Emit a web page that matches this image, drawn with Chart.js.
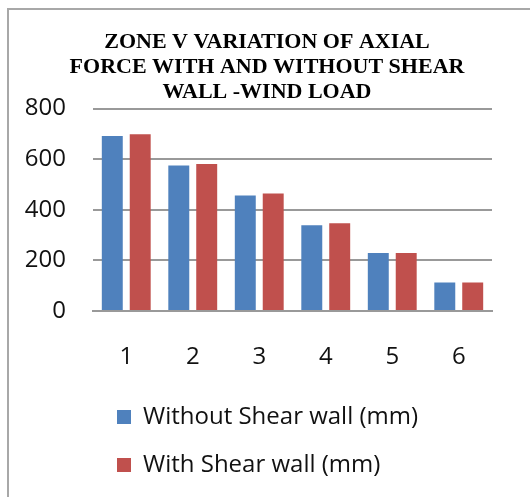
<!DOCTYPE html>
<html>
<head>
<meta charset="utf-8">
<script src="https://cdn.jsdelivr.net/npm/chart.js@4/dist/chart.umd.min.js"></script>
<style>
  html, body { margin: 0; padding: 0; background: #fff; overflow: hidden; }
  #frame { position: absolute; left: 7px; top: 8px; width: 600px; height: 600px;
           border: 2px solid #a8a8a8; box-sizing: border-box; }
  #wrap { position: absolute; left: 0; top: 0; width: 530px; height: 497px; }
</style>
</head>
<body>
<div id="frame"></div>
<div id="wrap"><canvas id="chart" width="530" height="497"></canvas></div>
<script>
// Storey levels and axial force for each case
const categories = ['1', '2', '3', '4', '5', '6'];
const withoutShearWall = [692, 575, 456, 339, 229, 113];
const withShearWall = [699, 581, 464, 347, 229, 113];
const yTicks = [0, 200, 400, 600, 800];
const titleLines = ['ZONE V VARIATION OF AXIAL', 'FORCE WITH AND WITHOUT SHEAR', 'WALL -WIND LOAD'];
const seriesNames = ['Without Shear wall (mm)', 'With Shear wall (mm)'];

const sansFamily = "'Open Sans', 'Liberation Sans', sans-serif";
const labelFont = { family: sansFamily, size: 24 };

new Chart(document.getElementById('chart'), {
  type: 'bar',
  data: {
    labels: categories,
    datasets: [
      { label: seriesNames[0], data: withoutShearWall, backgroundColor: '#4F81BD',
        categoryPercentage: 0.84, barPercentage: 0.75 },
      { label: seriesNames[1], data: withShearWall, backgroundColor: '#C0504D',
        categoryPercentage: 0.84, barPercentage: 0.75 }
    ]
  },
  options: {
    responsive: false,
    animation: false,
    devicePixelRatio: 1,
    layout: { padding: { left: 20, right: 16, top: 0, bottom: 10 } },
    plugins: {
      title: {
        display: true,
        text: titleLines,
        color: '#000',
        font: { family: "'Liberation Serif', 'Times New Roman', serif", size: 22, weight: 'bold', lineHeight: 1.13 },
        padding: { top: 30, bottom: 4 }
      },
      legend: {
        display: true,
        position: 'bottom',
        align: 'start',
        fullSize: false,
        labels: {
          color: '#111',
          font: labelFont,
          boxWidth: 14,
          boxHeight: 14,
          padding: 24
        }
      },
      tooltip: { enabled: false }
    },
    scales: {
      x: {
        grid: { display: false, drawTicks: false },
        border: { display: true, color: '#999999', width: 2 },
        ticks: { color: '#111', font: { family: sansFamily, size: 24, lineHeight: 1.667 }, padding: 26 },
        afterFit: (axis) => { axis.height = 70; }
      },
      y: {
        min: 0,
        max: 800,
        afterBuildTicks: (axis) => { axis.ticks = yTicks.map(v => ({ value: v })); },
        afterFit: (axis) => { axis.width = 73; },
        grid: { color: '#999999', lineWidth: 2, drawTicks: false },
        border: { display: false },
        ticks: { color: '#111', font: labelFont, padding: 27 }
      },
      // empty right-hand margin beside the plot
      side: {
        type: 'linear',
        position: 'right',
        grid: { display: false, drawTicks: false },
        border: { display: false },
        ticks: { display: false },
        afterFit: (axis) => { axis.width = 22; }
      }
    }
  }
});
</script>
</body>
</html>
